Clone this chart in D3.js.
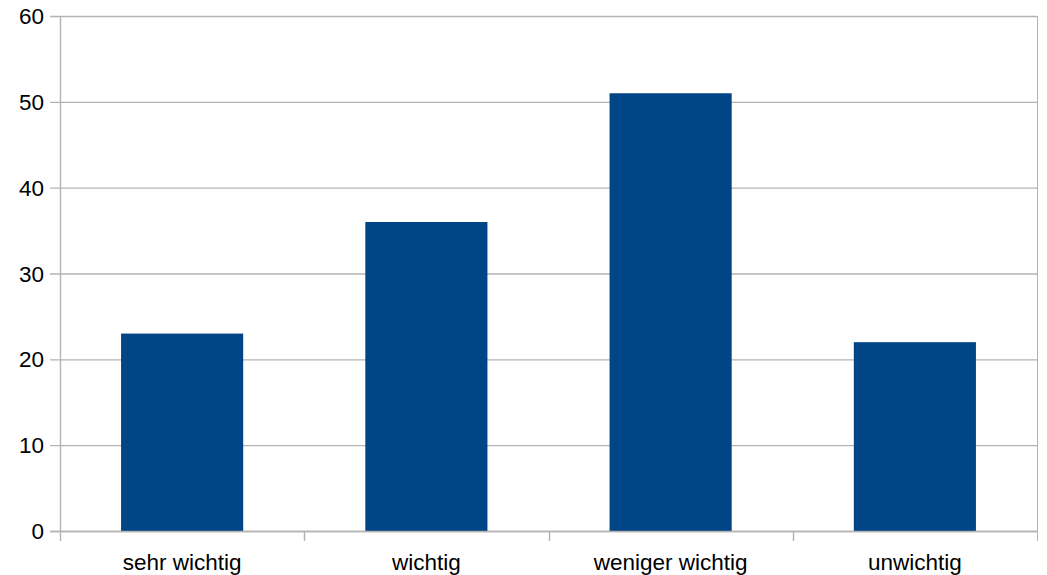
<!DOCTYPE html>
<html><head><meta charset="utf-8">
<script src="https://cdn.jsdelivr.net/npm/d3@7"></script>
<style>body{margin:0;background:#fff}svg{display:block}</style>
</head><body>
<svg id="c" width="1047" height="575"></svg>
<script>
const categories = ["sehr wichtig", "wichtig", "weniger wichtig", "unwichtig"];
const values = [23, 36, 51, 22];
const yTicks = [0, 10, 20, 30, 40, 50, 60];

const svg = d3.select("#c");
const m = {left: 60, right: 10, top: 16, bottom: 44};
const W = 1047, H = 575;
const x = d3.scaleBand().domain(categories).range([m.left, W - m.right]).paddingInner(0.5).paddingOuter(0.25);
const xb = d3.scaleBand().domain(categories).range([m.left, W - m.right]);
const y = d3.scaleLinear().domain([0, 60]).range([H - m.bottom, m.top]);
const grid = "#b3b3b3";
const font = "'Liberation Sans', Arial, sans-serif";

// gridlines
svg.append("g").selectAll("line").data(yTicks).join("line")
  .attr("x1", m.left - 10).attr("x2", W - m.right)
  .attr("y1", d => y(d) + 0.5).attr("y2", d => y(d) + 0.5)
  .attr("stroke", grid).attr("stroke-width", 1.4);

// left axis line and right border
svg.append("line").attr("x1", m.left + 0.5).attr("x2", m.left + 0.5)
  .attr("y1", y(60)).attr("y2", y(0) + 10).attr("stroke", grid).attr("stroke-width", 1.4);
svg.append("line").attr("x1", W - m.right + 0.5).attr("x2", W - m.right + 0.5)
  .attr("y1", y(60)).attr("y2", y(0) + 10).attr("stroke", grid);

// category boundary ticks
const bounds = categories.slice(1).map(c => xb(c));
svg.append("g").selectAll("line").data(bounds).join("line")
  .attr("x1", d => Math.round(d) + 0.5).attr("x2", d => Math.round(d) + 0.5)
  .attr("y1", y(0)).attr("y2", y(0) + 10).attr("stroke", grid).attr("stroke-width", 1.4);

// bars
svg.append("g").selectAll("rect").data(values).join("rect")
  .attr("x", (d, i) => x(categories[i]))
  .attr("width", x.bandwidth())
  .attr("y", d => y(d))
  .attr("height", d => y(0) - y(d))
  .attr("fill", "#004586");

// redraw zero line above bars
svg.append("line").attr("x1", m.left - 10).attr("x2", W - m.right)
  .attr("y1", y(0) + 0.5).attr("y2", y(0) + 0.5).attr("stroke", grid).attr("stroke-width", 1.4);

// y labels
svg.append("g").selectAll("text").data(yTicks).join("text")
  .attr("x", 44).attr("y", d => y(d)).attr("dy", "0.36em")
  .attr("text-anchor", "end").attr("font-family", font).attr("font-size", 22.5)
  .attr("fill", "#000").text(d => d);

// x labels
svg.append("g").selectAll("text").data(categories).join("text")
  .attr("x", d => xb(d) + xb.bandwidth() / 2).attr("y", 570)
  .attr("text-anchor", "middle").attr("font-family", font).attr("font-size", 22.5)
  .attr("fill", "#000").text(d => d);
</script>
</body></html>
